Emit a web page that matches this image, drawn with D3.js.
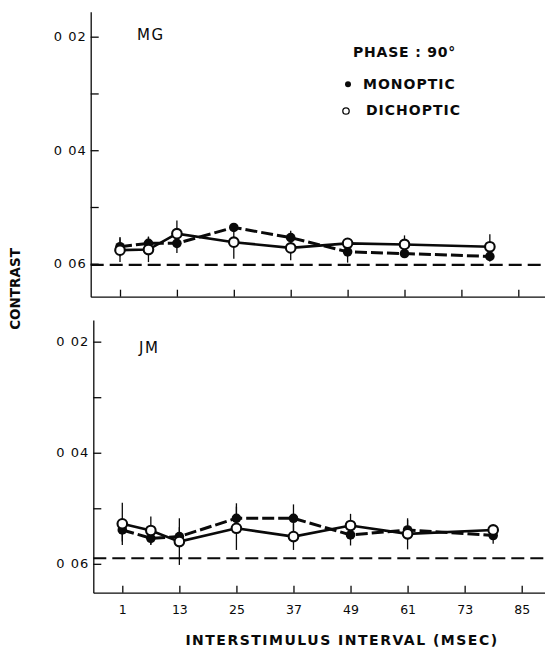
<!DOCTYPE html>
<html lang="en">
<head>
<meta charset="UTF-8">
<title>Contrast vs interstimulus interval</title>
<script src="https://cdn.jsdelivr.net/npm/d3@7"></script>
<style>
body { margin: 0; background: #fff; }
svg { display: block; background: #fff; }
text { font-family: "DejaVu Sans", sans-serif; fill: #0a0a0a; }
.axis path, .axis line { stroke: #0a0a0a; stroke-width: 1.3; }
</style>
</head>
<body>
<svg width="545" height="647"></svg>
<script>
// interstimulus intervals (msec) where points were measured
var isi = [1, 7, 13, 25, 37, 49, 61, 79];
var xTicks = [1, 13, 25, 37, 49, 61, 73, 85];
var yTicks = [0.02, 0.03, 0.04, 0.05, 0.06];
var yTickLabels = ["0 02", "", "0 04", "", "0 06"];

// observer MG
var mgMonoptic     = [0.0570, 0.0564, 0.0564, 0.0536, 0.0554, 0.0579, 0.0582, 0.0587];
var mgMonopticErr  = [0.0017, 0.0012, 0.0017, 0.0006, 0.0012, 0.0019, 0.0006, 0.0009];
var mgDichoptic    = [0.0576, 0.0575, 0.0547, 0.0562, 0.0572, 0.0564, 0.0566, 0.0570];
var mgDichopticErr = [0.0021, 0.0022, 0.0023, 0.0029, 0.0022, 0.0009, 0.0016, 0.0022];
var mgBaseline = 0.0602;

// observer JM
var jmMonoptic     = [0.0539, 0.0554, 0.0551, 0.0518, 0.0518, 0.0548, 0.0539, 0.0549];
var jmMonopticErr  = [0.0021, 0.0012, 0.0017, 0.0027, 0.0025, 0.0019, 0.0018, 0.0015];
var jmDichoptic    = [0.0528, 0.0540, 0.0560, 0.0536, 0.0551, 0.0531, 0.0546, 0.0539];
var jmDichopticErr = [0.0038, 0.0025, 0.0042, 0.0039, 0.0024, 0.0021, 0.0028, 0.0008];
var jmBaseline = 0.0590;

var svg = d3.select("svg"),
    width = +svg.attr("width");

var panels = [
  {name: "MG", mono: mgMonoptic, monoErr: mgMonopticErr, dich: mgDichoptic, dichErr: mgDichopticErr,
   base: mgBaseline, left: 90.7, top: 11.7, bottom: 296.7,
   xDomain: [-5.18, 90.63], yDomain: [0.0156, 0.0658], labelX: 137, labelY: 39.5, showX: false},
  {name: "JM", mono: jmMonoptic, monoErr: jmMonopticErr, dich: jmDichoptic, dichErr: jmDichopticErr,
   base: jmBaseline, left: 93.3, top: 320, bottom: 592.7,
   xDomain: [-5.10, 89.9], yDomain: [0.0161, 0.0652], labelX: 139, labelY: 352.5, showX: true}
];

panels.forEach(drawPanel);

function drawPanel(p) {
  var x = d3.scaleLinear().domain(p.xDomain).range([p.left, width]);
  var y = d3.scaleLinear().domain(p.yDomain).range([p.top, p.bottom]);
  var g = svg.append("g");

  var xAxis = d3.axisBottom(x)
      .tickValues(xTicks)
      .tickSize(-7)
      .tickSizeOuter(0)
      .tickPadding(12)
      .tickFormat(p.showX ? d3.format("d") : function() { return ""; });

  g.append("g")
      .attr("class", "axis")
      .attr("transform", "translate(0," + p.bottom + ")")
      .call(xAxis)
      .attr("font-family", null)
      .attr("font-size", null)
    .selectAll("text")
      .style("font-size", "12.5px");

  var yAxis = d3.axisLeft(y)
      .tickValues(yTicks)
      .tickSize(-8)
      .tickSizeOuter(0)
      .tickPadding(4)
      .tickFormat(function(d, i) { return yTickLabels[i]; });

  g.append("g")
      .attr("class", "axis")
      .attr("transform", "translate(" + p.left + ",0)")
      .call(yAxis)
      .attr("font-family", null)
      .attr("font-size", null)
    .selectAll("text")
      .style("font-size", "13px")
      .style("letter-spacing", "1px");

  // dashed reference level
  g.append("line")
      .attr("x1", p.left)
      .attr("x2", width)
      .attr("y1", y(p.base))
      .attr("y2", y(p.base))
      .attr("stroke", "#0a0a0a")
      .attr("stroke-width", 2.2)
      .attr("stroke-dasharray", "13,6");

  var line = d3.line()
      .x(function(d, i) { return x(isi[i]); })
      .y(function(d) { return y(d); });

  g.append("path")
      .datum(p.mono)
      .attr("d", line)
      .attr("fill", "none")
      .attr("stroke", "#0a0a0a")
      .attr("stroke-width", 3)
      .attr("stroke-dasharray", "12,4");

  g.append("path")
      .datum(p.dich)
      .attr("d", line)
      .attr("fill", "none")
      .attr("stroke", "#0a0a0a")
      .attr("stroke-width", 2.6);

  // error bars
  [[p.mono, p.monoErr], [p.dich, p.dichErr]].forEach(function(s) {
    g.append("g").selectAll("line")
      .data(s[0])
      .enter().append("line")
        .attr("x1", function(d, i) { return x(isi[i]); })
        .attr("x2", function(d, i) { return x(isi[i]); })
        .attr("y1", function(d, i) { return y(d - s[1][i]); })
        .attr("y2", function(d, i) { return y(d + s[1][i]); })
        .attr("stroke", "#0a0a0a")
        .attr("stroke-width", 1.3);
  });

  g.append("g").selectAll("circle")
    .data(p.mono)
    .enter().append("circle")
      .attr("cx", function(d, i) { return x(isi[i]); })
      .attr("cy", function(d) { return y(d); })
      .attr("r", 4.8)
      .attr("fill", "#0a0a0a");

  g.append("g").selectAll("circle")
    .data(p.dich)
    .enter().append("circle")
      .attr("cx", function(d, i) { return x(isi[i]); })
      .attr("cy", function(d) { return y(d); })
      .attr("r", 4.8)
      .attr("fill", "#fff")
      .attr("stroke", "#0a0a0a")
      .attr("stroke-width", 2.1);

  g.append("text")
      .attr("x", p.labelX)
      .attr("y", p.labelY)
      .style("font-size", "15px")
      .style("letter-spacing", "1.5px")
      .text(p.name);
}

// legend
var legend = svg.append("g");
legend.append("text")
    .attr("x", 353).attr("y", 56.7)
    .style("font-size", "14px").style("font-weight", "bold").style("letter-spacing", "0.8px")
    .text("PHASE : 90\u00b0");
legend.append("circle")
    .attr("cx", 348).attr("cy", 84.3).attr("r", 3).attr("fill", "#0a0a0a");
legend.append("text")
    .attr("x", 363).attr("y", 89.3)
    .style("font-size", "14px").style("font-weight", "bold").style("letter-spacing", "1px")
    .text("MONOPTIC");
legend.append("circle")
    .attr("cx", 346).attr("cy", 111).attr("r", 3.2).attr("fill", "#fff")
    .attr("stroke", "#0a0a0a").attr("stroke-width", 1.3);
legend.append("text")
    .attr("x", 366).attr("y", 115)
    .style("font-size", "14px").style("font-weight", "bold").style("letter-spacing", "1px")
    .text("DICHOPTIC");

// axis titles
svg.append("text")
    .attr("transform", "translate(15,289) rotate(-90)")
    .attr("y", 5)
    .attr("text-anchor", "middle")
    .style("font-size", "13.5px").style("font-weight", "bold")
    .text("CONTRAST");

svg.append("text")
    .attr("x", 342).attr("y", 645)
    .attr("text-anchor", "middle")
    .style("font-size", "14px").style("font-weight", "bold").style("letter-spacing", "1.5px")
    .text("INTERSTIMULUS  INTERVAL (MSEC)");
</script>
</body>
</html>
